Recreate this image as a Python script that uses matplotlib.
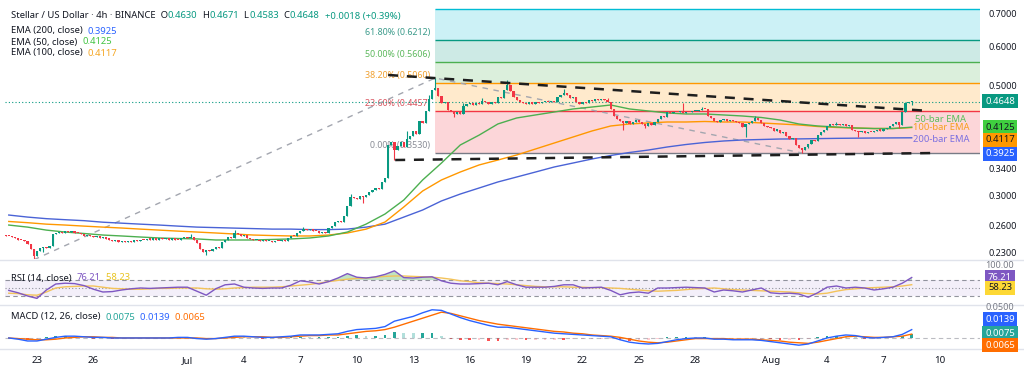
import numpy as np
import pandas as pd
import matplotlib
matplotlib.use('Agg')
import matplotlib.pyplot as plt
from matplotlib.lines import Line2D
from matplotlib.ticker import NullLocator, FuncFormatter

plt.rcParams['font.family'] = ['Noto Sans', 'DejaVu Sans']

W, H = 1024, 380

# ---- 4h candles XLM/USD, Jun 21 08:00 -> Aug 8 12:00 (closes) ----
first_open = 0.2490
closes = [
    0.2485, 0.2478, 0.2465, 0.2458,                  # Jun 21
    0.2440, 0.2430, 0.2420, 0.2395, 0.2330, 0.2260,  # Jun 22
    0.2310, 0.2350, 0.2360, 0.2345, 0.2370, 0.2505,  # Jun 23
    0.2520, 0.2530, 0.2515, 0.2535, 0.2525, 0.2540,  # Jun 24
    0.2520, 0.2510, 0.2500, 0.2485, 0.2495, 0.2480,  # Jun 25
    0.2470, 0.2475, 0.2455, 0.2465, 0.2445, 0.2440,  # Jun 26
    0.2425, 0.2430, 0.2415, 0.2425, 0.2410, 0.2420,  # Jun 27
    0.2415, 0.2430, 0.2420, 0.2440, 0.2430, 0.2445,  # Jun 28
    0.2440, 0.2450, 0.2440, 0.2455, 0.2445, 0.2455,  # Jun 29
    0.2440, 0.2450, 0.2440, 0.2430, 0.2455, 0.2470,  # Jun 30
    0.2460, 0.2470, 0.2440, 0.2400, 0.2340, 0.2300,  # Jul 1
    0.2320, 0.2310, 0.2340, 0.2360, 0.2350, 0.2410,  # Jul 2
    0.2440, 0.2470, 0.2460, 0.2520, 0.2500, 0.2485,  # Jul 3
    0.2490, 0.2460, 0.2450, 0.2430, 0.2435, 0.2425,  # Jul 4
    0.2430, 0.2420, 0.2425, 0.2415, 0.2425, 0.2420,  # Jul 5
    0.2430, 0.2425, 0.2460, 0.2480, 0.2475, 0.2520,  # Jul 6
    0.2545, 0.2560, 0.2550, 0.2565, 0.2545, 0.2540,  # Jul 7
    0.2520, 0.2530, 0.2520, 0.2575, 0.2600, 0.2650,  # Jul 8
    0.2660, 0.2645, 0.2720, 0.2850, 0.2980, 0.2960,  # Jul 9
    0.2945, 0.2985, 0.2970, 0.3010, 0.3040, 0.3080,  # Jul 10
    0.3100, 0.3090, 0.3200, 0.3250, 0.3800, 0.3850,  # Jul 11
    0.3700, 0.3780, 0.3850, 0.3760, 0.3900, 0.3950,  # Jul 12
    0.4050, 0.4000, 0.4250, 0.4200, 0.4450, 0.4700,  # Jul 13
    0.4900, 0.4950, 0.4780, 0.4620, 0.4650, 0.4470,  # Jul 14
    0.4450, 0.4380, 0.4420, 0.4390, 0.4550, 0.4600,  # Jul 15
    0.4620, 0.4580, 0.4620, 0.4600, 0.4670, 0.4640,  # Jul 16
    0.4600, 0.4650, 0.4620, 0.4760, 0.4720, 0.4900,  # Jul 17
    0.5030, 0.4880, 0.4750, 0.4680, 0.4650, 0.4620,  # Jul 18
    0.4600, 0.4640, 0.4600, 0.4640, 0.4610, 0.4630,  # Jul 19
    0.4650, 0.4630, 0.4660, 0.4640, 0.4750, 0.4800,  # Jul 20
    0.4850, 0.4800, 0.4720, 0.4740, 0.4640, 0.4600,  # Jul 21
    0.4630, 0.4610, 0.4680, 0.4660, 0.4700, 0.4690,  # Jul 22
    0.4700, 0.4680, 0.4650, 0.4500, 0.4350, 0.4280,  # Jul 23
    0.4240, 0.4200, 0.4250, 0.4180, 0.4220, 0.4260,  # Jul 24
    0.4230, 0.4180, 0.4150, 0.4200, 0.4170, 0.4230,  # Jul 25
    0.4280, 0.4350, 0.4330, 0.4420, 0.4400, 0.4430,  # Jul 26
    0.4420, 0.4440, 0.4410, 0.4430, 0.4420, 0.4440,  # Jul 27
    0.4450, 0.4470, 0.4500, 0.4480, 0.4350, 0.4300,  # Jul 28
    0.4250, 0.4230, 0.4260, 0.4280, 0.4240, 0.4260,  # Jul 29
    0.4250, 0.4220, 0.4200, 0.4120, 0.4180, 0.4200,  # Jul 30
    0.4250, 0.4300, 0.4260, 0.4200, 0.4150, 0.4120,  # Jul 31
    0.4100, 0.4060, 0.4080, 0.4020, 0.4030, 0.3950,  # Aug 1
    0.3900, 0.3920, 0.3800, 0.3740, 0.3700, 0.3760,  # Aug 2
    0.3820, 0.3880, 0.3860, 0.3980, 0.4030, 0.4080,  # Aug 3
    0.4150, 0.4180, 0.4170, 0.4190, 0.4160, 0.4180,  # Aug 4
    0.4150, 0.4170, 0.4080, 0.4050, 0.4030, 0.4050,  # Aug 5
    0.4020, 0.4040, 0.4030, 0.4050, 0.4070, 0.4060,  # Aug 6
    0.4090, 0.4110, 0.4150, 0.4180, 0.4220, 0.4160,  # Aug 7
    0.4420, 0.4620, 0.4630, 0.4648,                  # Aug 8
]
# visible wicks (candle index -> extreme)
wick_highs = {59: 0.2500, 73: 0.2550, 95: 0.2590, 110: 0.3020, 128: 0.4050, 135: 0.4800,
              137: 0.5190, 146: 0.4620, 152: 0.4720, 160: 0.5150, 178: 0.4920, 192: 0.4720,
              216: 0.4618, 222: 0.4540, 239: 0.4340, 265: 0.4230, 289: 0.4671}
wick_lows = {9: 0.2220, 12: 0.2300, 64: 0.2270, 114: 0.2900, 124: 0.3540, 143: 0.4326,
             197: 0.4071, 204: 0.4100, 236: 0.3940, 254: 0.3656, 256: 0.3740, 272: 0.3940,
             285: 0.4110, 289: 0.4583}

# ---- EMAs, one reading per day at 12:00 from Jun 21 ----
ema50 = [0.2611, 0.2586, 0.2550, 0.2527, 0.2510, 0.2492, 0.2481, 0.2469, 0.2458, 0.2452,
         0.2447, 0.2435, 0.2435, 0.2435, 0.2441, 0.2447, 0.2458, 0.2481, 0.2527, 0.2623,
         0.2749, 0.2935, 0.3223, 0.3488, 0.3795, 0.3974, 0.4187, 0.4306, 0.4367, 0.4428,
         0.4491, 0.4532, 0.4575, 0.4491, 0.4449, 0.4408, 0.4387, 0.4387, 0.4367, 0.4346,
         0.4316, 0.4265, 0.4187, 0.4148, 0.4128, 0.4109, 0.4099, 0.4099, 0.4125]
ema100 = [0.2655, 0.2640, 0.2622, 0.2611, 0.2598, 0.2586, 0.2575, 0.2562, 0.2550, 0.2538,
          0.2527, 0.2516, 0.2504, 0.2492, 0.2486, 0.2481, 0.2481, 0.2492, 0.2516, 0.2562,
          0.2648, 0.2841, 0.3061, 0.3223, 0.3345, 0.3457, 0.3538, 0.3622, 0.3725, 0.3831,
          0.3940, 0.4052, 0.4148, 0.4187, 0.4207, 0.4226, 0.4226, 0.4236, 0.4226, 0.4226,
          0.4207, 0.4187, 0.4168, 0.4138, 0.4119, 0.4109, 0.4099, 0.4099, 0.4117]
ema200 = [0.2736, 0.2710, 0.2690, 0.2677, 0.2665, 0.2646, 0.2634, 0.2622, 0.2611, 0.2598,
          0.2586, 0.2580, 0.2574, 0.2568, 0.2562, 0.2562, 0.2556, 0.2556, 0.2562, 0.2586,
          0.2622, 0.2710, 0.2801, 0.2922, 0.3018, 0.3104, 0.3193, 0.3268, 0.3345, 0.3425,
          0.3489, 0.3555, 0.3614, 0.3665, 0.3707, 0.3760, 0.3804, 0.3840, 0.3867, 0.3885,
          0.3894, 0.3903, 0.3905, 0.3910, 0.3915, 0.3918, 0.3921, 0.3923, 0.3925]

# ---- oscillators, one reading every 12h from Jun 21 12:00 ----
rsi = [44, 38, 30, 24, 45, 60, 62, 61, 56, 47,
       40, 41, 45, 48, 50, 49, 50, 51, 52, 52,
       42, 32, 48, 58, 60, 52, 50, 49, 50, 50,
       57, 68, 65, 60, 66, 75, 86, 77, 75, 78,
       84, 93, 76, 75, 77, 78, 68, 62, 60, 60,
       61, 62, 58, 66, 58, 52, 52, 52, 54, 58,
       58, 50, 51, 52, 44, 33, 38, 40, 37, 50,
       50, 51, 52, 51, 50, 40, 45, 43, 40, 45,
       50, 38, 36, 37, 35, 27, 38, 52, 55, 50,
       52, 50, 45, 48, 52, 62, 76.21]
rsi_ma = [37, 36, 33, 32, 40, 50, 53, 54, 55, 55,
          52, 49, 48, 47, 47, 48, 49, 49, 50, 50,
          50, 48, 47, 48, 50, 51, 52, 52, 52, 53,
          55, 57, 59, 62, 66, 69, 72, 74, 75, 77,
          79, 80, 80, 79, 78, 77, 75, 72, 68, 66,
          63, 62, 61, 60, 58, 56, 54, 53, 53, 53,
          52, 52, 51, 51, 50, 49, 47, 45, 43, 42,
          43, 44, 46, 48, 49, 50, 48, 46, 45, 44,
          43, 42, 41, 40, 38, 36, 35, 37, 42, 46,
          48, 50, 51, 52, 53, 55, 58.23]
macd = [0.000, -0.002, -0.005, -0.005, -0.002, 0.001, 0.003, 0.003, 0.002, 0.001,
        0.001, 0.000, 0.000, 0.000, 0.000, 0.000, 0.000, 0.000, 0.001, 0.001,
        -0.001, -0.002, -0.001, 0.001, 0.003, 0.003, 0.002, 0.001, 0.001, 0.002,
        0.003, 0.005, 0.005, 0.005, 0.006, 0.007, 0.011, 0.014, 0.015, 0.016,
        0.019, 0.028, 0.032, 0.036, 0.042, 0.047, 0.046, 0.040, 0.034, 0.029,
        0.025, 0.021, 0.018, 0.018, 0.016, 0.014, 0.012, 0.010, 0.008, 0.007,
        0.006, 0.005, 0.004, 0.003, 0.002, -0.003, -0.007, -0.009, -0.010, -0.009,
        -0.006, -0.003, -0.001, 0.000, 0.000, -0.002, -0.002, -0.003, -0.003, -0.003,
        -0.004, -0.006, -0.008, -0.010, -0.012, -0.010, -0.005, 0.000, 0.003, 0.005,
        0.004, 0.001, 0.000, 0.001, 0.002, 0.006, 0.0139]
macd_signal = [0.000, -0.001, -0.002, -0.003, -0.003, -0.002, 0.000, 0.001, 0.002, 0.002,
               0.001, 0.001, 0.000, 0.000, 0.000, 0.000, 0.000, 0.000, 0.000, 0.000,
               0.000, -0.001, -0.001, 0.000, 0.001, 0.002, 0.002, 0.002, 0.001, 0.001,
               0.002, 0.003, 0.004, 0.004, 0.005, 0.005, 0.007, 0.009, 0.011, 0.012,
               0.014, 0.018, 0.023, 0.028, 0.033, 0.038, 0.043, 0.041, 0.037, 0.033,
               0.029, 0.026, 0.023, 0.021, 0.019, 0.017, 0.015, 0.013, 0.011, 0.010,
               0.008, 0.007, 0.005, 0.004, 0.003, 0.001, -0.002, -0.005, -0.007, -0.008,
               -0.007, -0.005, -0.003, -0.001, -0.001, -0.001, -0.001, -0.002, -0.002, -0.002,
               -0.003, -0.004, -0.005, -0.007, -0.008, -0.009, -0.007, -0.004, -0.001, 0.002,
               0.003, 0.002, 0.001, 0.001, 0.002, 0.003, 0.0065]

# ---- drawings ----
fib_levels = [0.3660, 0.4457, 0.5060, 0.5606, 0.6212, 0.7170]
fib_labels = ['0.00% (0.3530)', '23.60% (0.4457)', '38.20% (0.5060)',
              '50.00% (0.5606)', '61.80% (0.6212)', '']
fib_anchor = '2025-07-14 04:00'
resistance = (['2025-07-11 16:00', '2025-08-09 11:00'], [0.5264, 0.4449])
support = (['2025-07-12 01:00', '2025-08-09 18:00'], [0.3538, 0.3656])
swing_path = (['2025-06-22 20:00', '2025-07-14 04:00', '2025-08-02 16:00'], [0.2220, 0.5190, 0.3656])
last_price = 0.4648

price_ticks = [0.23, 0.26, 0.30, 0.34, 0.50, 0.60, 0.70]
tick_dates = ['2025-06-23', '2025-06-26', '2025-07-01', '2025-07-04', '2025-07-07', '2025-07-10',
              '2025-07-13', '2025-07-16', '2025-07-19', '2025-07-22', '2025-07-25', '2025-07-28',
              '2025-08-01', '2025-08-04', '2025-08-07', '2025-08-10']
tick_names = ['23', '26', 'Jul', '4', '7', '10', '13', '16', '19', '22', '25', '28', 'Aug', '4', '7', '10']

UP, DOWN = '#089981', '#f23645'
TXT = '#131722'
C50, C100, C200 = '#4caf50', '#ff9800', '#4a63d6'

t0 = pd.Timestamp('2025-06-23')


def days(ts):
    return np.asarray((pd.to_datetime(ts) - t0) / pd.Timedelta('1D'), dtype=float)


fig = plt.figure(figsize=(W / 100, H / 100), dpi=100)
fig.patch.set_facecolor('white')


def px_axes(x0, y0, x1, y1):
    a = fig.add_axes([x0 / W, 1 - y1 / H, (x1 - x0) / W, (y1 - y0) / H])
    a.set_facecolor('none')
    for s in a.spines.values():
        s.set_visible(False)
    a.set_xlim(-1.70, 50.13)
    a.tick_params(length=0, labelsize=6.5, labelcolor=TXT)
    return a


def ftext(x, y, s, **kw):
    kw.setdefault('va', 'center')
    return fig.text(x / W, 1 - y / H, s, **kw)


def chain(x, y, parts, size):
    r = fig.canvas.get_renderer()
    for s, col in parts:
        t = ftext(x, y, s, color=col, fontsize=size)
        x += t.get_window_extent(r).width


ax = px_axes(5, 4, 980, 259)
ax_rsi = px_axes(5, 261, 980, 304)
ax_macd = px_axes(5, 306, 980, 348)

# ---------- main pane ----------
ax.set_yscale('log')
ax.set_ylim(0.2228, 0.7334)
ax.yaxis.tick_right()
ax.set_yticks(price_ticks)
ax.yaxis.set_minor_locator(NullLocator())
ax.yaxis.set_major_formatter(FuncFormatter(lambda v, p: f'{v:.4f}'))
ax.tick_params(axis='y', pad=6)
ax.set_xticks([])

# fibonacci bands
x_fib = float(days([fib_anchor])[0])
x_end = ax.get_xlim()[1]
band_cols = ['#f23645', '#ff9800', '#4caf50', '#089981', '#00bcd4']
line_cols = ['#787b86', '#f23645', '#ff9800', '#4caf50', '#089981', '#00bcd4']
label_cols = ['#8a8d96', '#d9545f', '#f0a030', '#5cb85c', '#3a9a8a', '#00bcd4']
for k in range(len(fib_levels) - 1):
    ax.fill_between([x_fib, x_end], fib_levels[k], fib_levels[k + 1],
                    color=band_cols[k], alpha=0.2, lw=0, zorder=0)
for k, lev in enumerate(fib_levels):
    ax.hlines(lev, x_fib, x_end, color=line_cols[k], lw=1, zorder=1)
    if fib_labels[k]:
        ax.annotate(fib_labels[k], (x_fib, lev), xytext=(-5, 3), textcoords='offset pixels',
                    ha='right', va='bottom', fontsize=6.4, color=label_cols[k], zorder=1)

ax.axhline(last_price, color=UP, lw=0.8, ls=(0, (1, 2)), zorder=1)

# swing path of the fib tool
ax.plot(days(swing_path[0]), swing_path[1], color='#a3a6af', lw=1, ls=(0, (4, 4)), zorder=2)

# EMAs
ema_x = days(pd.date_range('2025-06-21 12:00', periods=len(ema50), freq='1D'))
ax.plot(ema_x, ema200, color=C200, lw=1, zorder=2)
ax.plot(ema_x, ema100, color=C100, lw=1, zorder=2)
ax.plot(ema_x, ema50, color=C50, lw=1, zorder=2)

# candles
cx = days(pd.date_range('2025-06-21 08:00', periods=len(closes), freq='4h'))
c = np.array(closes)
o = np.r_[first_open, c[:-1]]
body_lo, body_hi = np.minimum(o, c), np.maximum(o, c)
hi, lo = body_hi.copy(), body_lo.copy()
for i, v in wick_highs.items():
    hi[i] = v
for i, v in wick_lows.items():
    lo[i] = v
col = np.where(c >= o, UP, DOWN)
ax.vlines(cx, lo, hi, colors=col, lw=0.8, zorder=3)
ax.bar(cx, np.maximum(body_hi - body_lo, body_lo * 0.005), bottom=body_lo, width=0.12,
       color=col, lw=0, zorder=3)

# trend lines
for xs, ys in (resistance, support):
    ax.plot(days(xs), ys, color='#1e1e1e', lw=1.8, ls=(0, (4, 3.5)), zorder=4)

# ---------- RSI pane ----------
osc_x = days(pd.date_range('2025-06-21 12:00', periods=len(rsi), freq='12h'))
r = np.array(rsi, dtype=float)
ax_rsi.set_ylim(10, 117.5)
ax_rsi.set_xticks([])
ax_rsi.set_yticks([])
ax_rsi.axhspan(30, 70, color='#7e57c2', alpha=0.09, lw=0)
for lev, ls in ((70, (0, (4, 3))), (50, (0, (1, 2))), (30, (0, (4, 3)))):
    ax_rsi.axhline(lev, color='#787b86', lw=0.8, ls=ls, alpha=0.8)
ax_rsi.fill_between(osc_x, 70, r, where=r >= 70, interpolate=True, color='#4caf50', alpha=0.35, lw=0)
ax_rsi.fill_between(osc_x, 30, r, where=r <= 30, interpolate=True, color='#f23645', alpha=0.25, lw=0)
ax_rsi.plot(osc_x, rsi_ma, color='#f3c35a', lw=1)
ax_rsi.plot(osc_x, r, color='#7e57c2', lw=1)

# ---------- MACD pane ----------
m = np.array(macd)
s = np.array(macd_signal)
hist = m - s
prev = np.r_[0, hist[:-1]]
hcol = np.where(hist >= 0, np.where(hist >= prev, '#26a69a', '#b2dfdb'),
                np.where(hist < prev, '#ff5252', '#ffcdd2'))
ax_macd.set_ylim(-0.0167, 0.0533)
ax_macd.set_yticks([])
ax_macd.axhline(0, color='#787b86', lw=0.8, ls=(0, (4, 3)), alpha=0.5)
ax_macd.bar(osc_x, hist, width=0.14, color=hcol, lw=0)
ax_macd.plot(osc_x, s, color='#ff6d00', lw=1)
ax_macd.plot(osc_x, m, color='#2962ff', lw=1)
ax_macd.set_xticks(days(tick_dates))
ax_macd.set_xticklabels(tick_names)
ax_macd.tick_params(axis='x', pad=6, labelsize=7)

# ---------- separators ----------
for yy in (260, 305, 349):
    fig.add_artist(Line2D([0, 1], [1 - yy / H] * 2, color='#e0e3eb', lw=1))

# ---------- legends ----------
LEG = 6.8
chain(11, 16, [('Stellar / US Dollar · 4h · BINANCE  O', TXT), ('0.4630', UP), ('  H', TXT),
               ('0.4671', UP), ('  L', TXT), ('0.4583', UP), ('  C', TXT), ('0.4648', UP),
               ('  +0.0018 (+0.39%)', UP)], LEG)
chain(11, 31, [('EMA (200, close)  ', TXT), ('0.3925', '#2962ff')], LEG)
chain(11, 42, [('EMA (50, close)  ', TXT), ('0.4125', '#43c443')], LEG)
chain(11, 53, [('EMA (100, close)  ', TXT), ('0.4117', '#f5a623')], LEG)
chain(11, 278, [('RSI (14, close)  ', TXT), ('76.21', '#7e57c2'), ('  58.23', '#e8c31e')], LEG)
chain(11, 317, [('MACD (12, 26, close)  ', TXT), ('0.0075', '#26a69a'), ('  0.0139', '#2962ff'),
                ('  0.0065', '#ff6d00')], LEG)

ftext(915, 119, '50-bar EMA', color='#5cbf5c', fontsize=6.8)
ftext(913, 128, '100-bar EMA', color='#f5a020', fontsize=6.8)
ftext(913, 139, '200-bar EMA', color='#7b6fe0', fontsize=6.8)

# ---------- right scale tags ----------
ftext(985, 266, '100.00', color='#787b86', fontsize=6.5)
ftext(985, 308, '0.0500', color='#787b86', fontsize=6.5)
tags = [(101, '0.4648', UP, 'white'), (127, '0.4125', '#3fcf3f', TXT), (140, '0.4117', '#ff9800', TXT),
        (154, '0.3925', '#2962ff', 'white'), (277, '76.21', '#7e57c2', 'white'),
        (288, '58.23', '#fdd835', TXT), (319, '0.0139', '#2962ff', 'white'),
        (333, '0.0075', '#26a69a', 'white'), (345, '0.0065', '#ff6d00', 'white')]
for yy, s_, bg, fg in tags:
    ftext(1000, yy, s_, ha='center', color=fg, fontsize=6.8,
          bbox=dict(boxstyle='square,pad=0.28', fc=bg, ec='none'))

fig.savefig('out.png', dpi=100, facecolor='white')
